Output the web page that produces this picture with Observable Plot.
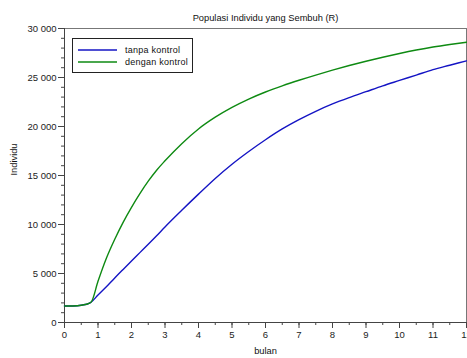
<!DOCTYPE html>
<html>
<head>
<meta charset="utf-8">
<script src="https://cdn.jsdelivr.net/npm/d3@7"></script>
<script src="https://cdn.jsdelivr.net/npm/@observablehq/plot@0.6"></script>
<style>
  html, body { margin: 0; padding: 0; background: #fff; }
  svg { display: block; }
</style>
</head>
<body>
<div id="chart"></div>
<script>
const months = [0, 0.25, 0.5, 0.75, 0.8, 1, 1.25, 1.5, 1.75, 2, 2.25, 2.5, 2.75, 3, 3.5, 4, 4.5, 5, 5.5, 6, 6.5, 7, 7.5, 8, 8.5, 9, 9.5, 10, 10.5, 11, 11.5, 12];
const tanpaKontrol = [1680, 1690, 1760, 1980, 2090, 2800, 3650, 4550, 5420, 6280, 7130, 7980, 8850, 9750, 11450, 13100, 14700, 16150, 17450, 18650, 19750, 20700, 21550, 22300, 22950, 23550, 24150, 24700, 25250, 25800, 26250, 26700];
const denganKontrol = [1680, 1690, 1760, 1980, 2100, 4200, 6560, 8500, 10220, 11750, 13150, 14420, 15540, 16500, 18250, 19750, 20950, 21950, 22800, 23520, 24150, 24720, 25250, 25750, 26220, 26660, 27070, 27450, 27800, 28110, 28370, 28600];
const seriesNames = ["tanpa kontrol", "dengan kontrol"];
const seriesColors = ["#1414c4", "#0e8a12"];
const yMajor = [0, 5000, 10000, 15000, 20000, 25000, 30000];
const yMinor = d3.range(0, 30001, 1000);
const xMajor = [0, 1, 2, 3, 4, 5, 6, 7, 8, 9, 10, 11, 12];
const xMinor = d3.range(0, 12.01, 0.5);
const titleText = "Populasi Individu yang Sembuh (R)";
const xLabel = "bulan";
const yLabel = "Individu";

const rows = [];
seriesNames.forEach((name, si) => {
  const vals = si === 0 ? tanpaKontrol : denganKontrol;
  months.forEach((m, i) => rows.push({bulan: m, value: vals[i], series: name}));
});

const font = "'Liberation Sans', Arial, sans-serif";
const fmt = d => d3.format(",")(d).replace(/,/g, " ");
const blank = () => "";

const plot = Plot.plot({
  width: 467,
  height: 358,
  marginLeft: 64,
  marginRight: 1,
  marginTop: 28,
  marginBottom: 36,
  style: {fontFamily: font, fontSize: "9.5px", color: "#222", background: "#fff", overflow: "visible"},
  x: {domain: [0, 12], label: null},
  y: {domain: [0, 30000], label: null},
  color: {domain: seriesNames, range: seriesColors},
  marks: [
    Plot.frame({stroke: "#777", strokeWidth: 1}),
    Plot.axisY(yMinor, {tickSize: 3, tickFormat: blank, stroke: "#444", label: null}),
    Plot.axisY(yMajor, {tickSize: 6, tickPadding: 2, tickFormat: fmt, stroke: "#444", fill: "#222", label: null}),
    Plot.axisX(xMinor, {tickSize: 3, tickFormat: blank, stroke: "#444", label: null}),
    Plot.axisX(xMajor, {tickSize: 6, tickPadding: 3, tickFormat: d => String(d), stroke: "#444", fill: "#222", label: null}),
    Plot.ruleX([0], {stroke: "#444"}),
    Plot.ruleY([0], {stroke: "#444"}),
    Plot.line(rows, {x: "bulan", y: "value", z: "series", stroke: "series", strokeWidth: 1.4, curve: "monotone-x"}),
    Plot.text([titleText], {frameAnchor: "top", dy: -14, fontSize: 9.3, fill: "#111", fontFamily: font, letterSpacing: "0.55px"}),
    Plot.text([xLabel], {frameAnchor: "bottom", dy: 31, fontSize: 9.3, fill: "#111", fontFamily: font, letterSpacing: "0.6px"}),
    Plot.text([yLabel], {frameAnchor: "left", dx: -50, rotate: -90, fontSize: 9.3, fill: "#111", fontFamily: font, letterSpacing: "0.4px"})
  ]
});

// legend box (layout decoration)
const svg = d3.select(plot);
const lg = svg.append("g").attr("font-family", font).attr("font-size", 9).attr("text-anchor", "start");
lg.append("rect").attr("x", 72.5).attr("y", 38.5).attr("width", 120).attr("height", 34)
  .attr("fill", "#fff").attr("stroke", "#222").attr("stroke-width", 1);
seriesNames.forEach((name, i) => {
  const y = 50 + i * 12;
  lg.append("line").attr("x1", 78).attr("x2", 117).attr("y1", y).attr("y2", y)
    .attr("stroke", seriesColors[i]).attr("stroke-width", 1.6);
  lg.append("text").attr("x", 125).attr("y", y + 3.2).attr("fill", "#111")
    .attr("text-anchor", "start").attr("letter-spacing", "0.25px").text(name);
});

document.getElementById("chart").appendChild(plot);
</script>
</body>
</html>
